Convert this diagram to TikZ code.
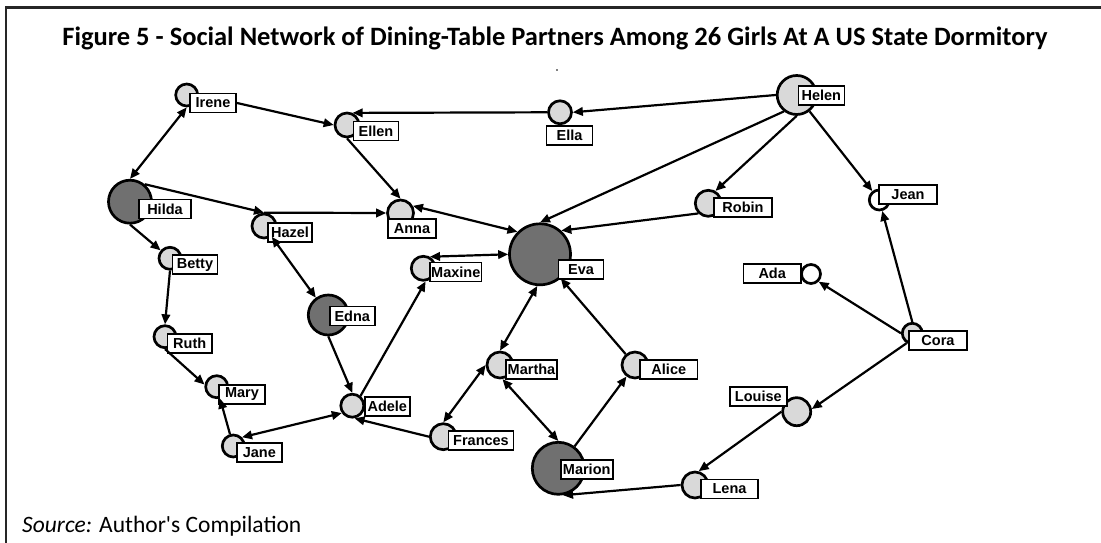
\documentclass[tikz,border=0pt]{standalone}
\usepackage{fontspec}
\setmainfont{Liberation Sans}
\newfontfamily\calibri{Carlito}
\usetikzlibrary{arrows.meta}

\definecolor{nodelight}{HTML}{D9D9D9}
\definecolor{nodedark}{HTML}{707070}

\tikzset{
  girl/.style={circle, draw=black, line width=2.7pt, fill=nodelight,
    inner sep=0pt, minimum size=#1},
  light/.style={fill=nodelight},
  dark/.style={fill=nodedark},
  blank/.style={fill=white},
  tag/.style={rectangle, draw=black, fill=white, line width=1.6pt,
    minimum height=19pt, inner sep=0pt,
    font=\bfseries\fontsize{14.5}{15}\selectfont},
  link/.style={line width=2.2pt, draw=black},
  oneway/.style={link, -{Triangle[length=10pt,width=8.5pt]}},
  twoway/.style={link, {Triangle[length=10pt,width=8.5pt]}-{Triangle[length=10pt,width=8.5pt]}},
}

% #1 id, #2 circle centre, #3 diameter, #4 fill, #5 name, #6 tag centre, #7 tag width
\newcommand\person[7]{%
  \node[girl=#3, #4] (#1) at (#2) {};
  \node[tag, minimum width=#7] (#1-l) at (#6) {#5};
}

\begin{document}
\begin{tikzpicture}[x=1pt, y=-1pt]
  \useasboundingbox (0,0) rectangle (1101,543);
  \fill[white] (0,0) rectangle (1101,543);

  % frame (top and left rules)
  \draw[line width=2.4pt, black!85] (6,543) -- (6,7.5) -- (1101,7.5);

  \node[font=\calibri\bfseries\fontsize{26.5}{30}\selectfont, anchor=base, inner sep=0pt]
    (title) at (555,46) {Figure 5 - Social Network of Dining-Table Partners Among 26 Girls At A US State Dormitory};
  \node[font=\calibri\fontsize{23.5}{26}\selectfont, anchor=base west, inner sep=0pt]
    (source) at (22,532) {{\itshape Source:} Author's Compilation};
  \fill (557,70) circle (0.8);

  % girls
  \person{irene}{186.7,95}{22}{light}{Irene}{213,103}{46.5}
  \person{ellen}{347,125}{24}{light}{Ellen}{376,131}{45}
  \person{hilda}{130,201.7}{43}{dark}{Hilda}{165,209}{52}
  \person{hazel}{264,226}{24}{light}{Hazel}{290,232.7}{44}
  \person{anna}{400.5,213}{26}{light}{Anna}{412,228.5}{47.5}
  \person{betty}{170,258.3}{22}{light}{Betty}{195,264.7}{45}
  \person{ruth}{165,336.7}{22}{light}{Ruth}{189.7,343.7}{44.5}
  \person{mary}{216.7,386.7}{22}{light}{Mary}{242,394.3}{46}
  \person{jane}{233.3,446}{22}{light}{Jane}{259.3,452.7}{45}
  \person{edna}{328.3,315}{40}{dark}{Edna}{352.3,316}{45}
  \person{adele}{352.3,405.7}{23}{light}{Adele}{387.3,406.3}{45}
  \person{maxine}{423.3,268.3}{24}{light}{Maxine}{455.8,272}{51.5}
  \person{frances}{443.3,436.7}{26}{light}{Frances}{481,440.5}{65}
  \person{martha}{500,365}{26}{light}{Martha}{531.5,369.5}{51}
  \person{alice}{635,365}{26}{light}{Alice}{668.8,369.5}{57.5}
  \person{louise}{796.7,411.7}{28}{light}{Louise}{758.3,396.3}{57}
  \person{marion}{558.3,468.3}{52}{dark}{Marion}{586.7,469.2}{52}
  \person{lena}{695,485}{26}{light}{Lena}{729.5,489}{57.5}
  \person{ella}{560,112.3}{23}{light}{Ella}{569.5,135.3}{46}
  \person{helen}{796.7,95}{39}{light}{Helen}{821.3,95.5}{46}
  \person{robin}{708.3,203.3}{26}{light}{Robin}{743,207.2}{58}
  \person{eva}{540,254.3}{61}{dark}{Eva}{581,269.7}{45}
  \person{ada}{811,274}{19}{blank}{Ada}{772.2,273.5}{57.5}
  \person{jean}{879.3,200}{20}{blank}{Jean}{908,194.2}{58}
  \person{cora}{912.3,333.3}{20}{light}{Cora}{938,340.3}{58}

  % dining-table partners
  \draw[twoway] (irene.south) -- (hilda.north);
  \draw[oneway] (irene-l.east) -- (ellen.west);
  \draw[oneway] (ella.west) -- (ellen.65);
  \draw[oneway] (helen.west) -- (ella.east);
  \draw[oneway] (ellen.south) -- (anna.north);
  \draw[oneway] (hilda.50) -- (hazel.north);
  \draw[oneway] (hazel.north) -- (anna.west);
  \draw[twoway] (anna.30) -- (eva.135);
  \draw[oneway] (helen.-128) -- (eva.north);
  \draw[oneway] (helen.south) -- (robin.60);
  \draw[oneway] (robin.-135) -- (eva.48);
  \draw[oneway] (helen) -- (jean);
  \draw[oneway] (cora.north) -- (jean.-75);
  \draw[oneway] (cora.west) -- (ada.-45);
  \draw[oneway] (cora.-120) -- (louise.10);
  \draw[oneway] (louise.west) -- (lena.75);
  \draw[oneway] (lena.west) -- (marion.-80);
  \draw[oneway] (marion) -- (alice);
  \draw[oneway] (alice) -- (eva);
  \draw[twoway] (martha.north) -- (eva.265);
  \draw[twoway] (martha.-80) -- (marion.north);
  \draw[twoway] (martha.west) -- (frances.north);
  \draw[oneway] (frances.west) -- (adele.-80);
  \draw[oneway] (adele.50) -- (maxine.-80);
  \draw[twoway] (maxine.60) -- (eva.west);
  \draw[oneway] (edna.south) -- (adele.north);
  \draw[twoway] (hazel) -- (edna);
  \draw[twoway] (jane.north east) -- (adele.215);
  \draw[oneway] (jane) -- (mary);
  \draw[oneway] (ruth.south) -- (mary.170);
  \draw[oneway] (betty.south) -- (ruth.north);
  \draw[oneway] (hilda.south) -- (betty);
\end{tikzpicture}
\end{document}
